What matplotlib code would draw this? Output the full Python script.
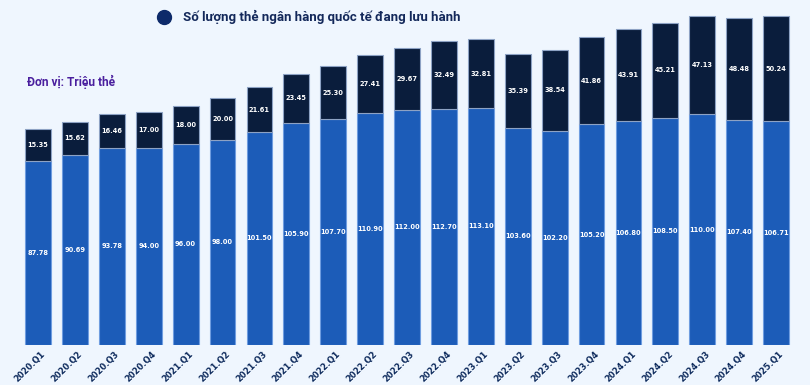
import matplotlib.pyplot as plt
import matplotlib.transforms as mtransforms
from matplotlib.lines import Line2D

plt.rcParams['font.family'] = ['Roboto', 'DejaVu Sans']

# Dữ liệu (triệu thẻ)
quarters = ['2020.Q1', '2020.Q2', '2020.Q3', '2020.Q4',
            '2021.Q1', '2021.Q2', '2021.Q3', '2021.Q4',
            '2022.Q1', '2022.Q2', '2022.Q3', '2022.Q4',
            '2023.Q1', '2023.Q2', '2023.Q3', '2023.Q4',
            '2024.Q1', '2024.Q2', '2024.Q3', '2024.Q4', '2025.Q1']
bottom_vals = [87.78, 90.69, 93.78, 94.00, 96.00, 98.00, 101.50, 105.90,
               107.70, 110.90, 112.00, 112.70, 113.10, 103.60, 102.20,
               105.20, 106.80, 108.50, 110.00, 107.40, 106.71]
intl_vals = [15.35, 15.62, 16.46, 17.00, 18.00, 20.00, 21.61, 23.45,
             25.30, 27.41, 29.67, 32.49, 32.81, 35.39, 38.54,
             41.86, 43.91, 45.21, 47.13, 48.48, 50.24]

bg = '#eff6fe'
c_blue = '#1c5cb8'
c_navy = '#0a1d3c'

fig = plt.figure(figsize=(8.1, 3.85), dpi=100, facecolor=bg)
ax = fig.add_axes([0, 0.105, 1, 0.895])
ax.set_facecolor(bg)

x = range(len(quarters))
ax.bar(x, bottom_vals, width=0.7, color=c_blue, edgecolor='#6f9de0', linewidth=0.8)
ax.bar(x, intl_vals, width=0.7, bottom=bottom_vals, color=c_navy,
       edgecolor='#8da2c4', linewidth=0.8)

for i in x:
    ax.text(i, bottom_vals[i] / 2, f'{bottom_vals[i]:.2f}', ha='center', va='center',
            color='white', fontsize=4.8, fontweight='bold', family='DejaVu Sans')
    ax.text(i, bottom_vals[i] + intl_vals[i] / 2, f'{intl_vals[i]:.2f}', ha='center',
            va='center', color='white', fontsize=4.8, fontweight='bold', family='DejaVu Sans')

ax.set_xlim(-1.03, 20.92)
ax.set_ylim(0, 164.7)
ax.set_xticks(list(x))
ax.set_xticklabels(quarters, rotation=45, ha='right', va='center', rotation_mode='anchor',
                   fontsize=6, fontweight='bold', color='#0d2a5c', family='DejaVu Sans')
ax.tick_params(axis='x', length=0, pad=6)
shift = mtransforms.ScaledTranslation(0.06, 0, fig.dpi_scale_trans)
for lbl in ax.get_xticklabels():
    lbl.set_transform(lbl.get_transform() + shift)
ax.set_yticks([])
for s in ax.spines.values():
    s.set_visible(False)

handle = Line2D([], [], marker='o', linestyle='none', markersize=10, color='#0d2a6a')
fig.legend([handle], ['Số lượng thẻ ngân hàng quốc tế đang lưu hành'],
           loc='center left', bbox_to_anchor=(0.172, 0.955), frameon=False,
           handletextpad=0.4, prop={'size': 9.5, 'weight': 'bold'}, labelcolor='#13285a')

fig.text(0.033, 0.787, 'Đơn vị: Triệu thẻ', fontsize=8.6, fontweight='bold',
         color='#4a1f9e', va='center')

plt.savefig('out.png', dpi=100, facecolor=bg)
